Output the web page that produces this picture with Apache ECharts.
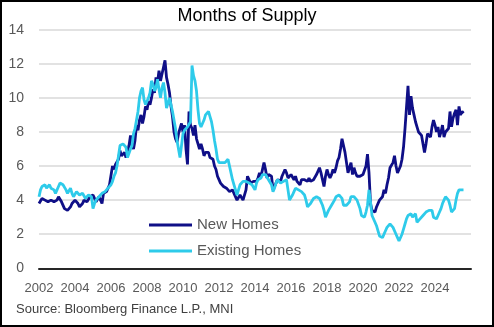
<!DOCTYPE html>
<html>
<head>
<meta charset="utf-8">
<script src="https://cdn.jsdelivr.net/npm/echarts@6/dist/echarts.min.js"></script>
<style>
html,body{margin:0;padding:0;background:#fff;}
#chart{width:494px;height:327px;}
</style>
</head>
<body>
<div id="chart"></div>
<script>
// Monthly data starting January 2002
const startYear = 2002;
const seriesNames = ['New Homes', 'Existing Homes'];
const yTicks = [0, 2, 4, 6, 8, 10, 12, 14];
const xTicks = [2002, 2004, 2006, 2008, 2010, 2012, 2014, 2016, 2018, 2020, 2022, 2024];

const newHomes = [
  3.8, 3.9, 4.1, 4.1, 4.0, 4.0, 3.9, 4.0, 4.0, 4.1, 3.9, 3.9,   // 2002
  4.0, 4.2, 4.2, 3.9, 3.8, 3.5, 3.4, 3.4, 3.5, 3.6, 3.8, 3.9,   // 2003
  4.0, 3.9, 3.8, 3.6, 3.7, 3.8, 4.0, 4.1, 3.9, 4.0, 4.2, 4.3,   // 2004
  4.3, 4.1, 3.9, 4.0, 4.2, 4.1, 3.8, 4.4, 4.3, 4.5, 4.7, 4.9,   // 2005
  5.0, 6.0, 5.8, 6.1, 6.2, 6.4, 6.9, 6.6, 6.5, 6.8, 6.5, 6.4,   // 2006
  7.2, 7.8, 7.2, 7.0, 7.5, 8.4, 8.1, 8.7, 9.0, 8.5, 8.9, 9.5,   // 2007
  9.3, 9.8, 9.6, 10.0, 10.5, 10.3, 11.2, 10.9, 11.6, 11.0, 11.4, 11.8, // 2008
  12.2, 11.2, 10.8, 10.3, 9.5, 8.9, 8.0, 7.6, 7.4, 7.9, 8.0, 8.5, // 2009
  8.0, 8.4, 7.0, 6.1, 9.2, 8.4, 8.2, 7.8, 8.4, 7.6, 7.3, 7.0,   // 2010
  7.3, 7.0, 6.6, 6.8, 6.7, 6.8, 6.5, 6.6, 6.4, 6.0, 5.8, 5.4,   // 2011
  5.2, 5.0, 4.9, 4.8, 4.8, 4.7, 4.8, 4.5, 4.5, 4.6, 4.4, 4.5,   // 2012
  4.0, 4.1, 4.3, 4.2, 4.0, 4.0, 4.6, 5.4, 5.2, 5.0, 4.9, 5.1,   // 2013
  5.2, 5.1, 5.3, 5.6, 5.4, 5.5, 6.2, 5.8, 5.3, 5.5, 5.6, 5.4,   // 2014
  4.6, 4.8, 5.0, 5.2, 5.3, 5.1, 5.4, 5.5, 5.8, 5.6, 5.3, 5.3,   // 2015
  5.5, 5.4, 5.2, 5.4, 5.1, 5.0, 4.9, 5.2, 5.1, 5.2, 5.3, 5.1,   // 2016
  5.3, 5.1, 5.0, 5.2, 5.3, 5.5, 5.6, 5.9, 5.6, 5.2, 4.8, 5.4,   // 2017
  5.8, 5.5, 5.3, 5.5, 5.8, 5.6, 5.9, 6.3, 6.5, 7.0, 7.6, 7.2,   // 2018
  6.8, 6.2, 5.6, 5.9, 6.2, 5.5, 5.9, 5.6, 5.4, 5.5, 5.4, 5.4,   // 2019
  5.5, 5.6, 6.0, 6.7, 5.6, 3.8, 3.4, 3.3, 3.3, 3.6, 3.7, 4.0,   // 2020
  4.1, 4.2, 4.6, 4.4, 4.9, 5.3, 5.9, 6.0, 6.2, 6.6, 6.0, 5.6,   // 2021
  5.8, 6.0, 6.4, 7.1, 8.2, 8.3, 10.7, 9.0, 10.1, 9.4, 9.0, 8.6, // 2022
  8.3, 8.0, 8.0, 7.8, 7.7, 6.8, 7.3, 7.9, 7.8, 7.7, 8.3, 8.7,   // 2023
  8.4, 8.0, 8.3, 7.7, 8.0, 8.4, 7.7, 8.0, 7.9, 8.2, 9.2, 8.3,   // 2024
  8.8, 9.1, 9.3, 8.4, 9.5, 9.0, 9.2, 9.1                        // 2025
];

const existingHomes = [
  4.2, 4.6, 4.8, 4.7, 4.9, 4.7, 4.8, 4.9, 4.7, 4.8, 4.6, 4.4,   // 2002
  4.5, 4.8, 5.0, 5.1, 4.9, 4.8, 4.6, 4.4, 4.5, 4.7, 4.4, 4.2,   // 2003
  4.2, 4.5, 4.6, 4.3, 4.2, 4.4, 4.3, 4.1, 4.2, 4.3, 4.4, 4.2,   // 2004
  3.5, 3.8, 4.0, 4.1, 4.2, 4.3, 4.4, 4.4, 4.5, 4.6, 4.7, 4.8,   // 2005
  4.9, 5.1, 5.4, 5.6, 6.0, 6.6, 7.2, 7.3, 7.3, 7.2, 7.1, 6.5,   // 2006
  6.4, 7.0, 7.2, 7.9, 8.2, 8.7, 9.2, 10.0, 10.4, 10.6, 9.9, 9.6, // 2007
  9.8, 10.0, 10.3, 11.0, 10.8, 10.4, 10.6, 11.1, 10.5, 10.0, 10.6, 10.9, // 2008
  10.3, 9.4, 9.7, 10.0, 9.6, 9.2, 8.7, 8.2, 7.5, 7.0, 6.5, 7.2, // 2009
  7.9, 8.1, 8.2, 8.3, 8.4, 8.6, 11.9, 11.3, 11.0, 10.4, 9.3, 8.5, // 2010
  8.3, 8.3, 8.7, 9.0, 8.9, 9.2, 8.9, 8.6, 8.1, 7.5, 7.0, 6.4,   // 2011
  6.2, 6.1, 6.2, 6.3, 6.2, 6.2, 6.4, 6.3, 5.6, 5.2, 4.9, 4.6,   // 2012
  4.3, 4.6, 4.9, 5.0, 5.1, 5.0, 5.1, 5.0, 5.0, 5.1, 4.9, 4.8,   // 2013
  4.6, 5.0, 5.2, 5.2, 5.3, 5.5, 5.6, 5.5, 5.5, 5.2, 5.1, 4.9,   // 2014
  4.5, 4.7, 5.0, 5.2, 5.2, 5.0, 4.9, 5.1, 5.0, 5.2, 4.6, 4.0,   // 2015
  4.0, 4.3, 4.5, 4.7, 4.7, 4.6, 4.5, 4.5, 4.4, 4.3, 4.0, 3.6,   // 2016
  3.6, 3.8, 3.9, 4.1, 4.2, 4.2, 4.2, 4.1, 3.9, 3.7, 3.4, 3.0,   // 2017
  3.1, 3.4, 3.5, 3.7, 3.8, 4.0, 4.2, 4.3, 4.3, 4.2, 4.1, 3.7,   // 2018
  3.7, 3.7, 3.8, 3.9, 4.2, 4.3, 4.2, 4.1, 4.0, 3.9, 3.5, 3.1,   // 2019
  3.1, 3.0, 3.3, 3.7, 4.6, 3.9, 3.1, 3.0, 2.7, 2.5, 2.2, 1.9,   // 2020
  1.9, 1.8, 1.9, 2.2, 2.4, 2.5, 2.6, 2.6, 2.4, 2.3, 2.0, 1.8,   // 2021
  1.6, 1.7, 2.0, 2.3, 2.6, 2.9, 3.1, 3.2, 3.2, 3.0, 3.1, 3.2,   // 2022
  2.7, 2.6, 2.9, 3.0, 3.1, 3.1, 3.3, 3.3, 3.4, 3.5, 3.4, 3.0,   // 2023
  3.0, 2.9, 3.1, 3.3, 3.5, 3.8, 4.0, 4.2, 4.1, 4.0, 3.7, 3.3,   // 2024
  3.3, 3.5, 4.0, 4.4, 4.6, 4.7, 4.6, 4.6                        // 2025
];

function toPairs(values) {
  return values.map(function (v, i) { return [startYear + i / 12, v]; });
}

const chart = echarts.init(document.getElementById('chart'), null, { renderer: 'canvas' });
const FONT = '"Liberation Sans", Arial, sans-serif';

chart.setOption({
  animation: false,
  backgroundColor: '#ffffff',
  title: {
    text: 'Months of Supply',
    left: 'center',
    top: 2,
    textStyle: { fontFamily: FONT, fontSize: 18, fontWeight: 'normal', color: '#000000' }
  },
  grid: { left: 39, right: 23, top: 29.7, bottom: 58.7, containLabel: false },
  legend: {
    data: seriesNames,
    orient: 'vertical',
    left: 149,
    top: 217,
    padding: 0,
    icon: 'rect',
    itemWidth: 43,
    itemHeight: 3,
    itemGap: 10,
    textStyle: { fontFamily: FONT, fontSize: 15, color: '#595959', lineHeight: 16 }
  },
  xAxis: {
    type: 'value',
    min: 2002,
    max: 2026,
    interval: 2,
    axisLine: { show: true, onZero: false, lineStyle: { color: '#262626', width: 2 } },
    axisTick: { show: false },
    splitLine: { show: false },
    axisLabel: {
      margin: 14,
      fontFamily: FONT,
      fontSize: 13,
      color: '#595959',
      formatter: function (v) { return xTicks.indexOf(v) >= 0 ? String(v) : ''; }
    }
  },
  yAxis: {
    type: 'value',
    min: 0,
    max: 14,
    interval: 2,
    axisLine: { show: false },
    axisTick: { show: false },
    splitLine: { show: true, lineStyle: { color: '#d9d9d9', width: 1.5 } },
    axisLabel: {
      margin: 15,
      fontFamily: FONT,
      fontSize: 14,
      color: '#595959',
      formatter: function (v) { return yTicks.indexOf(v) >= 0 ? String(v) : ''; }
    }
  },
  series: [
    {
      name: seriesNames[0],
      type: 'line',
      data: toPairs(newHomes),
      showSymbol: false,
      symbol: 'none',
      lineStyle: { color: '#0f0f87', width: 2.8 },
      itemStyle: { color: '#0f0f87' },
      z: 2
    },
    {
      name: seriesNames[1],
      type: 'line',
      data: toPairs(existingHomes),
      showSymbol: false,
      symbol: 'none',
      lineStyle: { color: '#2ecbea', width: 2.8 },
      itemStyle: { color: '#2ecbea' },
      z: 3
    }
  ],
  graphic: [
    {
      type: 'text',
      left: 16,
      top: 303,
      style: { text: 'Source: Bloomberg Finance L.P., MNI', fontFamily: FONT, fontSize: 13, fill: '#404040' }
    },
    {
      type: 'rect',
      shape: { x: 1, y: 1, width: 492, height: 325 },
      style: { fill: 'none', stroke: '#000000', lineWidth: 2 },
      silent: true
    }
  ]
});
</script>
</body>
</html>
